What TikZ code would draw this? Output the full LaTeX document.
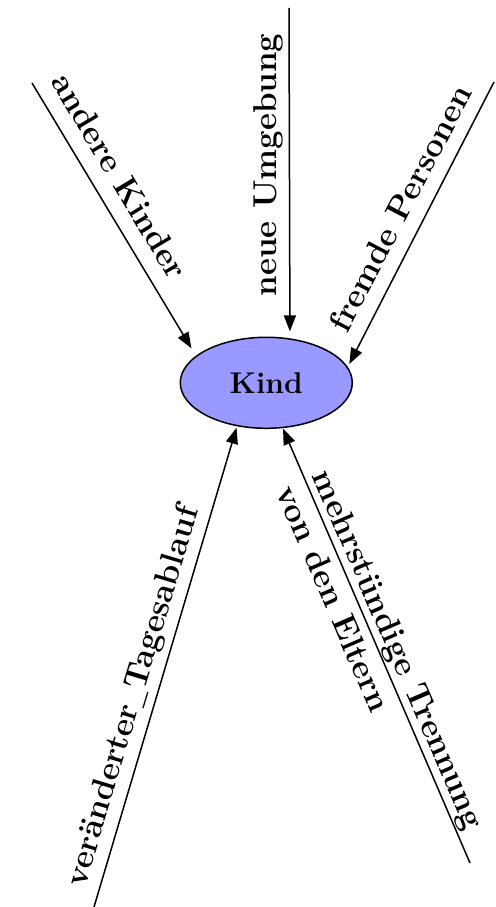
\documentclass[tikz,border=0pt]{standalone}
\usepackage{graphicx}
\usetikzlibrary{shapes.geometric,arrows.meta}
\definecolor{kindblue}{RGB}{153,153,255}
\newcommand{\shortus}{\scalebox{0.6}[1]{\_}}
\begin{document}
\begin{tikzpicture}[x=1pt,y=1pt,
  lbl/.style={inner sep=0pt, font=\fontsize{33}{40}\selectfont\bfseries},
  arr/.style={line width=1.5pt, -{Triangle[length=16pt,width=12pt]}}]
\useasboundingbox (0,0) rectangle (495,907);
\node[ellipse, draw, line width=1.5pt, fill=kindblue, minimum width=172pt, minimum height=91pt, inner sep=0pt,
  font=\fontsize{30}{36}\selectfont\bfseries] (K) at (266.3,524.2) {Kind};
\coordinate (s1) at (32,824);
\coordinate (s2) at (289,899);
\coordinate (s3) at (494,825);
\coordinate (s4) at (94,0);
\coordinate (s5) at (470,44);
\draw[arr, shorten >=8.7pt] (s1) -- (K.159.4);
\draw[arr, shorten >=6.9pt] (s2) -- (K.62.7);
\draw[arr, shorten >=3.3pt] (s3) -- (K.11.9);
\draw[arr, shorten >=1.5pt] (s4) -- (K.236.7);
\draw[arr, shorten >=0.5pt] (s5) -- (K.290.5);
\node[lbl, rotate=-59] (l1) at (120,731) {andere Kinder};
\node[lbl, rotate=90] (l2) at (268,742) {neue Umgebung};
\node[lbl, rotate=62.5] (l3) at (400,699) {fremde Personen};
\node[lbl, rotate=73.3] (l4) at (134,210.5) {veränderter\shortus Tagesablauf};
\node[lbl, rotate=-66.6, align=left] (l5) at (381,250) {mehrstündige Trennung\\von den Eltern};
\end{tikzpicture}
\end{document}
